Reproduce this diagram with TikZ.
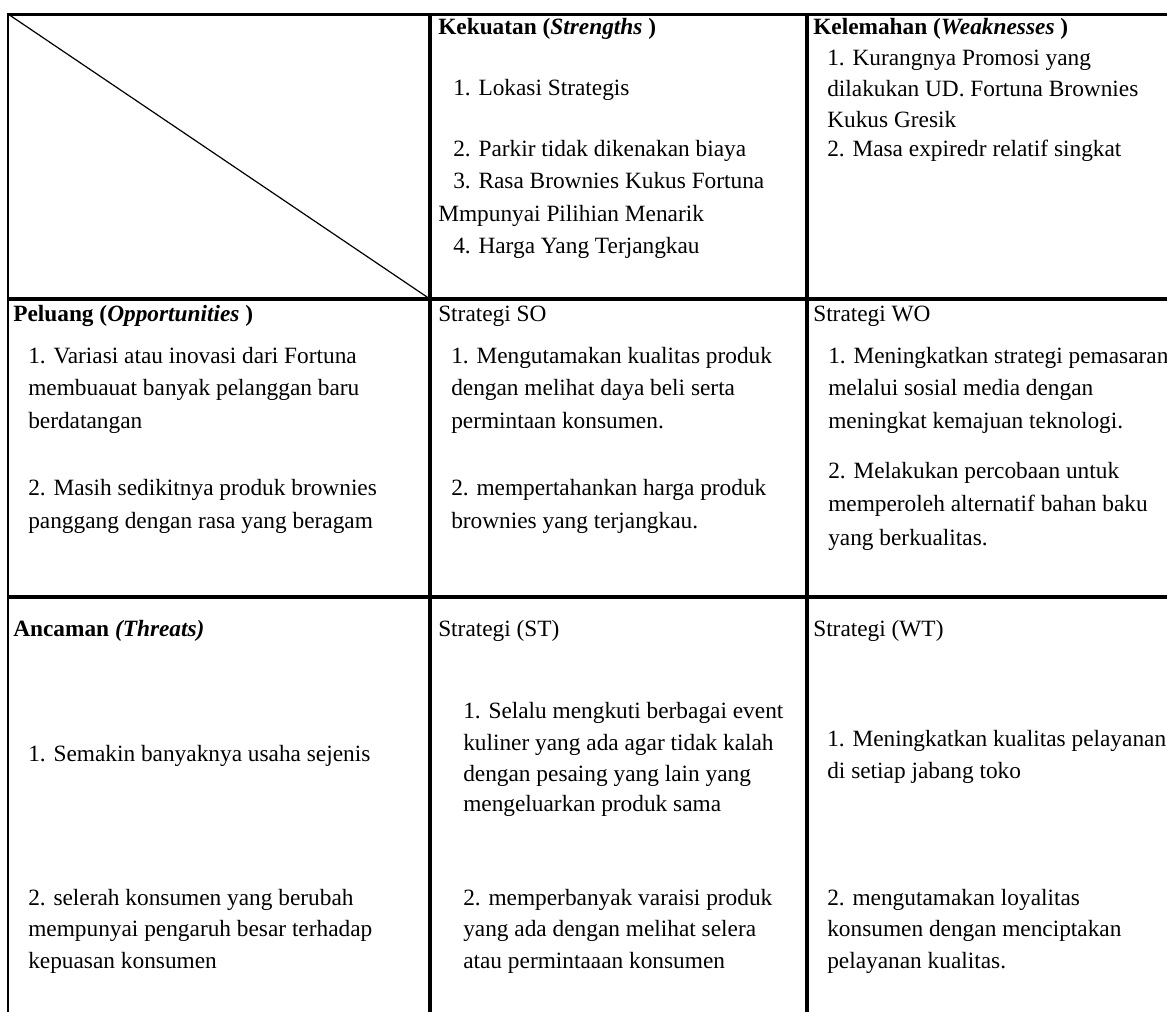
\documentclass[tikz,border=0pt]{standalone}
\usepackage{fontspec}
\setmainfont{Liberation Serif}

\begin{document}
\begin{tikzpicture}[x=0.75pt, y=-0.75pt,
  txt/.style={right, inner sep=0pt, text height=0.7em, text depth=0.2em,
    font=\fontsize{17.5}{21}\selectfont},
  hd/.style={txt, font=\fontsize{17.5}{21}\selectfont\bfseries},
  rule/.style={line width=3pt}]

\useasboundingbox (0,0) rectangle (1167,1011);

% frame and grid
\draw[line width=2.25pt] (7,14.3) -- (1180,14.3);
\draw[line width=1.5pt] (8,14) -- (8,1020);
\draw[rule] (430,14) -- (430,1020);
\draw[rule] (807,14) -- (807,1020);
\draw[rule] (8,299) -- (1180,299);
\draw[rule] (8,597) -- (1180,597);
\draw[line width=0.9pt] (8,14) -- (430,299);

% strengths
\node[hd]  (s0) at (438,31)  {Kekuatan (\textit{Strengths} )};
\node[txt] (s1) at (453,92)  {1. Lokasi Strategis};
\node[txt] (s2) at (453,153) {2. Parkir tidak dikenakan biaya};
\node[txt] (s3) at (453,185) {3. Rasa Brownies Kukus Fortuna};
\node[txt] (s4) at (438,218) {Mmpunyai Pilihian Menarik};
\node[txt] (s5) at (453,250) {4. Harga Yang Terjangkau};

% weaknesses
\node[hd]  (w0) at (813,31)  {Kelemahan (\textit{Weaknesses} )};
\node[txt] (w1) at (827,62)  {1. Kurangnya Promosi yang};
\node[txt] (w2) at (827,93)  {dilakukan UD. Fortuna Brownies};
\node[txt] (w3) at (827,124) {Kukus Gresik};
\node[txt] (w4) at (827,153) {2. Masa expiredr relatif singkat};

% opportunities
\node[hd]  (o0) at (13,318) {Peluang (\textit{Opportunities} )};
\node[txt] (o1) at (28,360) {1. Variasi atau inovasi dari Fortuna};
\node[txt] (o2) at (28,392) {membuauat banyak pelanggan baru};
\node[txt] (o3) at (28,425) {berdatangan};
\node[txt] (o4) at (28,492) {2. Masih sedikitnya produk brownies};
\node[txt] (o5) at (28,525) {panggang dengan rasa yang beragam};

% SO
\node[txt] (so0) at (438,318) {Strategi SO};
\node[txt] (so1) at (451,360) {1. Mengutamakan kualitas produk};
\node[txt] (so2) at (451,392) {dengan melihat daya beli serta};
\node[txt] (so3) at (451,425) {permintaan konsumen.};
\node[txt] (so4) at (451,492) {2. mempertahankan harga produk};
\node[txt] (so5) at (451,525) {brownies yang terjangkau.};

% WO
\node[txt] (wo0) at (813,318) {Strategi WO};
\node[txt] (wo1) at (828,360) {1. Meningkatkan strategi pemasaran};
\node[txt] (wo2) at (828,392) {melalui sosial media dengan};
\node[txt] (wo3) at (828,425) {meningkat kemajuan teknologi.};
\node[txt] (wo4) at (828,475) {2. Melakukan percobaan untuk};
\node[txt] (wo5) at (828,508) {memperoleh alternatif bahan baku};
\node[txt] (wo6) at (828,542) {yang berkualitas.};

% threats
\node[hd]  (t0) at (13,633) {Ancaman \textit{(Threats)}};
\node[txt] (t1) at (28,758) {1. Semakin banyaknya usaha sejenis};
\node[txt] (t2) at (28,902) {2. selerah konsumen yang berubah};
\node[txt] (t3) at (28,933) {mempunyai pengaruh besar terhadap};
\node[txt] (t4) at (28,965) {kepuasan konsumen};

% ST
\node[txt] (st0) at (438,633) {Strategi (ST)};
\node[txt] (st1) at (463,715) {1. Selalu mengkuti berbagai event};
\node[txt] (st2) at (463,747) {kuliner yang ada agar tidak kalah};
\node[txt] (st3) at (463,778) {dengan pesaing yang lain yang};
\node[txt] (st4) at (463,808) {mengeluarkan produk sama};
\node[txt] (st5) at (463,902) {2. memperbanyak varaisi produk};
\node[txt] (st6) at (463,933) {yang ada dengan melihat selera};
\node[txt] (st7) at (463,965) {atau permintaaan konsumen};

% WT
\node[txt] (wt0) at (813,633) {Strategi (WT)};
\node[txt] (wt1) at (827,743) {1. Meningkatkan kualitas pelayanan};
\node[txt] (wt2) at (827,775) {di setiap jabang toko};
\node[txt] (wt3) at (827,902) {2. mengutamakan loyalitas};
\node[txt] (wt4) at (827,933) {konsumen dengan menciptakan};
\node[txt] (wt5) at (827,965) {pelayanan kualitas.};

\end{tikzpicture}
\end{document}
